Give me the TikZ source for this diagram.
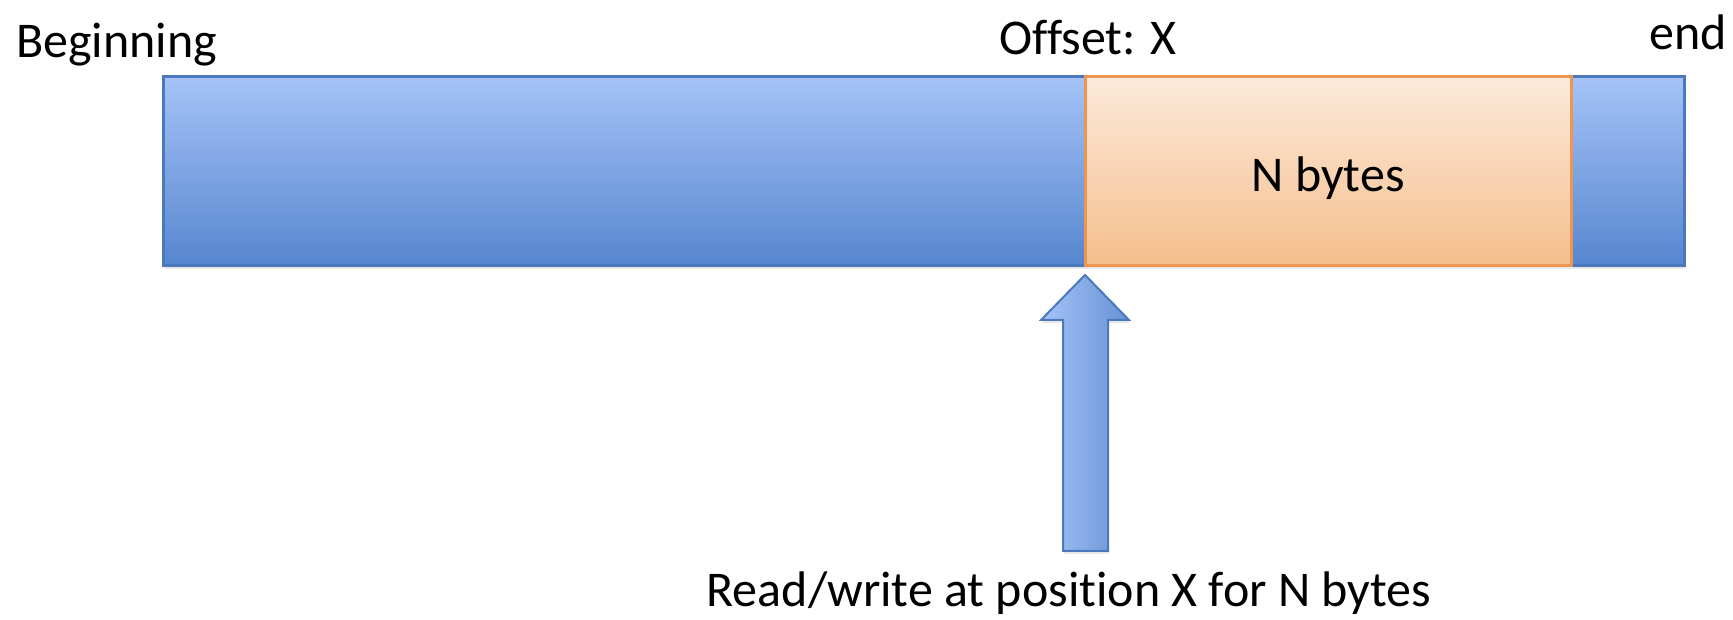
\documentclass[tikz,border=0pt]{standalone}
\usepackage{fontspec}
\setmainfont[Ligatures=NoCommon]{Carlito}
\usetikzlibrary{shadows}
\definecolor{bartop}{HTML}{A5C3F7}
\definecolor{barbot}{HTML}{5686CF}
\definecolor{barline}{HTML}{4C78BE}
\definecolor{ortop}{HTML}{FCEADB}
\definecolor{orbot}{HTML}{F5BE8C}
\definecolor{orline}{HTML}{EE9650}
\tikzset{
  lbl/.style={inner sep=0pt, font=\fontsize{50}{60}\selectfont},
  softshadow/.style={drop shadow={opacity=0.18, shadow xshift=1pt, shadow yshift=-3pt}},
  barbox/.style={draw=barline, line width=3pt, top color=bartop, bottom color=barbot, softshadow, inner sep=0pt, outer sep=0pt},
  nbox/.style={draw=orline, line width=3pt, top color=ortop, bottom color=orbot, inner sep=0pt, outer sep=0pt},
  uparrow/.style={draw=barline, line width=2pt, left color=bartop, right color=barbot!90, line join=miter, softshadow}
}
\begin{document}
\begin{tikzpicture}[x=1pt,y=1pt]
\useasboundingbox (0,0) rectangle (1733,620);
% file bar
\node[barbox, minimum width=1521pt, minimum height=189pt, anchor=south west] (bar) at (163,354) {};
% N bytes region
\node[nbox, minimum width=486pt, minimum height=189pt, anchor=south west] (nb) at (1085,354) {};
\node[lbl, anchor=base] (nbtxt) at (1328,428) {N bytes};
% labels
\node[lbl, anchor=base west] (beg) at (16,562) {Beginning};
\node[lbl, anchor=base] (off) at (1088,565) {Offset: X};
\node[lbl, anchor=base east] (endl) at (1727,570) {end};
\node[lbl, anchor=base] (rw) at (1069,13) {Read/write at position X for N bytes};
% arrow
\coordinate (tip) at (1085,345);
\draw[uparrow] (tip) -- (1129,300) -- (1108,300) -- (1108,69) -- (1063,69) -- (1063,300) -- (1041,300) -- cycle;
\end{tikzpicture}
\end{document}
